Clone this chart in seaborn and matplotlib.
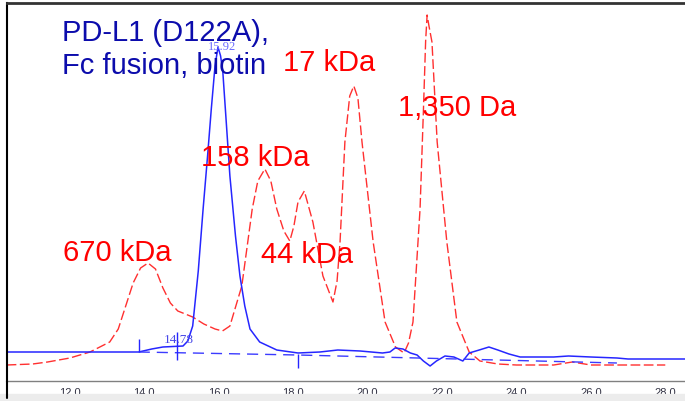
import numpy as np
import pandas as pd
import matplotlib
matplotlib.use("Agg")
import matplotlib.pyplot as plt
from matplotlib.lines import Line2D
from matplotlib.patches import Rectangle
import seaborn as sns

# red dashed trace: molecular weight standards (retention time in min, signal)
std_time = [10.3, 11.0, 11.4, 12.0, 12.54, 13.07, 13.3, 13.5, 13.7, 13.9, 14.1, 14.3, 14.5,
            14.7, 14.9, 15.1, 15.3, 15.6, 15.9, 16.1, 16.3, 16.62, 16.9, 17.05, 17.24, 17.4,
            17.56, 17.75, 17.91, 18.02, 18.13, 18.3, 18.53, 18.8, 19.07, 19.18, 19.26, 19.39,
            19.52, 19.63, 19.74, 19.85, 20.15, 20.47, 20.75, 20.98, 21.1, 21.22, 21.41, 21.5,
            21.56, 21.6, 21.65, 21.73, 21.87, 22.13, 22.4, 22.73, 23.02, 23.5, 24.0, 25.0,
            25.5, 26.0, 27.0, 28.0]
std_signal = [16, 17, 19, 23, 29, 39, 52, 75, 98, 113, 118, 112, 93,
              78, 70, 67, 64, 57, 52, 50, 55, 95, 172, 200, 212, 200,
              172, 150, 140, 155, 179, 190, 159, 105, 79, 100, 139, 239,
              285, 295, 283, 239, 139, 59, 34, 28, 38, 59, 172, 270,
              340, 366, 355, 339, 239, 139, 59, 29, 20, 17, 16, 16,
              19, 16, 16, 16]

# blue solid trace: PD-L1 (D122A), Fc fusion, biotin
sample_time = [10.3, 13.85, 14.2, 14.5, 15.04, 15.17, 15.3, 15.45, 15.58, 15.7, 15.8, 15.9,
               15.98, 16.05, 16.11, 16.2, 16.3, 16.45, 16.57, 16.7, 16.84, 17.1, 17.56, 18.13,
               18.72, 19.2, 19.8, 20.4, 20.6, 20.74, 20.95, 21.15, 21.33, 21.5, 21.68, 21.85,
               22.08, 22.32, 22.56, 22.73, 23.0, 23.26, 23.5, 23.8, 24.1, 25.0, 25.4, 26.0,
               26.7, 27.0, 28.53]
sample_signal = [29, 29, 32, 34, 35, 40, 55, 110, 172, 225, 272, 315,
                 334, 325, 309, 260, 205, 145, 105, 75, 52, 39, 31, 28,
                 29, 31, 30, 28, 29, 33, 32, 28, 26, 20, 15, 20,
                 25, 24, 20, 28, 31, 34, 31, 27, 24, 24, 25, 24,
                 23, 22, 22]

# integration baseline and peak markers
base_time = [13.85, 18.13, 26.7]
base_signal = [29, 26, 18]
mark_time = [13.85, 14.88, 18.13]
mark_low = [29, 21, 13]
mark_high = [42, 49, 27]

std_labels = ["670 kDa", "158 kDa", "44 kDa", "17 kDa", "1,350 Da"]
tick_values = [12, 14, 16, 18, 20, 22, 24, 26, 28]

W, H = 685, 402


def fpos(px, py):
    # figure pixel (from top-left) -> figure fraction
    return px / W, 1 - py / H


sns.set_style("white")
plt.rcParams['font.family'] = ['Liberation Sans', 'DejaVu Sans']

fig = plt.figure(figsize=(W / 100, H / 100), dpi=100)
ax = fig.add_axes([7 / W, 20 / H, 678 / W, 378 / H])

std = pd.DataFrame({"time": std_time, "signal": std_signal})
smp = pd.DataFrame({"time": sample_time, "signal": sample_signal})

sns.lineplot(data=std, x="time", y="signal", ax=ax, color="#ff3030", lw=1.0,
             linestyle=(0, (7, 2.5)), estimator=None)
sns.lineplot(data=smp, x="time", y="signal", ax=ax, color="#2626ff", lw=1.1,
             estimator=None)
sns.lineplot(x=base_time, y=base_signal, ax=ax, color="#3b3bff", lw=1.0,
             linestyle=(0, (8, 5)), estimator=None)
ax.vlines(mark_time, mark_low, mark_high, color="#2626ff", lw=1.0)

ax.set_xlim(10.31, 28.53)
ax.set_ylim(0, 378)
ax.set_xticks(tick_values)
ax.set_xticklabels([f"{v:.1f}" for v in tick_values])
ax.set_xticks(np.arange(11, 29, 1), minor=True)
ax.set_yticks([])
ax.set_xlabel("")
ax.set_ylabel("")
ax.tick_params(axis="x", which="both", direction="out", length=2.5, width=1,
               color="#606060", labelsize=8, labelcolor="#334", pad=1.5)

ax.spines["right"].set_visible(False)
ax.spines["left"].set_color("black")
ax.spines["left"].set_linewidth(1.5)
ax.spines["top"].set_color("#333333")
ax.spines["top"].set_linewidth(2)
ax.spines["bottom"].set_color("#808080")
ax.spines["bottom"].set_linewidth(1)

# light strip and frame below the axis
fig.patches.append(Rectangle((0, 0), 1, 7 / H, transform=fig.transFigure,
                             color="#ececec", zorder=0))
fig.lines.append(Line2D([7 / W, 7 / W], [3 / H, 20 / H], transform=fig.transFigure,
                        color="black", lw=1.5))

blue_txt = "#0c0cac"
fig.text(*fpos(62, 33), "PD-L1 (D122A),", color=blue_txt, fontsize=21,
         ha="left", va="center")
fig.text(*fpos(62, 66), "Fc fusion, biotin", color=blue_txt, fontsize=21,
         ha="left", va="center")

label_pos = [(63, 253), (201, 158), (261, 255), (283, 63), (398, 108)]
for lab, (px, py) in zip(std_labels, label_pos):
    fig.text(*fpos(px, py), lab, color="red", fontsize=21, ha="left", va="center")

fig.text(*fpos(222, 47), "15.92", color="#6a6aff", fontsize=9,
         family="Liberation Serif", ha="center", va="center")
fig.text(*fpos(179, 340), "14.78", color="#4848e8", fontsize=9.5,
         family="Liberation Serif", ha="center", va="center")

fig.savefig("out.png", dpi=100)
